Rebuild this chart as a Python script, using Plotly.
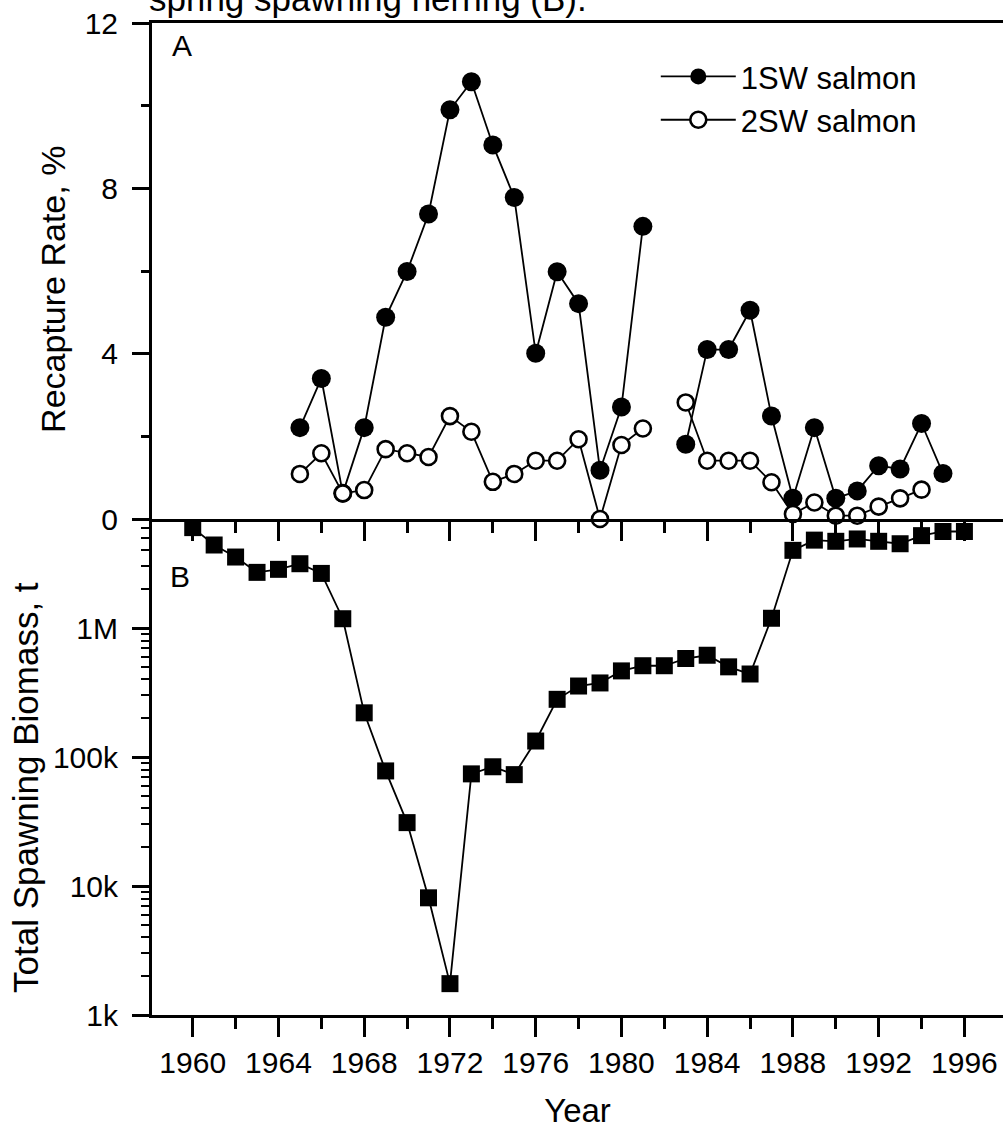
import plotly.graph_objects as go
from plotly.subplots import make_subplots

# ---- data ----
years_a = list(range(1965, 1996))
salmon_1sw = [2.21, 3.40, 0.62, 2.21, 4.88, 5.99, 7.38, 9.90, 10.58, 9.05,
              7.78, 4.01, 5.98, 5.21, 1.18, 2.71, 7.08, None, 1.81, 4.10,
              4.10, 5.05, 2.49, 0.50, 2.21, 0.50, 0.68, 1.29, 1.21, 2.31, 1.10]
salmon_2sw = [1.09, 1.59, 0.62, 0.70, 1.69, 1.59, 1.50, 2.49, 2.11, 0.90,
              1.09, 1.41, 1.41, 1.93, 0.00, 1.79, 2.19, None, 2.82, 1.41,
              1.41, 1.41, 0.89, 0.12, 0.40, 0.08, 0.08, 0.30, 0.50, 0.71, None]

years_b = list(range(1960, 1997))
biomass = [6.0e6, 4.4e6, 3.55e6, 2.7e6, 2.85e6, 3.15e6, 2.65e6, 1.18e6, 2.2e5, 7.8e4,
           3.1e4, 8.1e3, 1.75e3, 7.4e4, 8.4e4, 7.3e4, 1.33e5, 2.8e5, 3.55e5, 3.75e5,
           4.65e5, 5.1e5, 5.1e5, 5.8e5, 6.15e5, 5.0e5, 4.4e5, 1.19e6, 4.0e6, 4.8e6,
           4.7e6, 4.9e6, 4.7e6, 4.5e6, 5.2e6, 5.6e6, 5.6e6]

a_ticks = [0, 4, 8, 12]
a_minor = [2, 6, 10]
b_tickvals = [1e3, 1e4, 1e5, 1e6]
b_ticktext = ["1k", "10k", "100k", "1M"]
x_tickvals = list(range(1960, 1997, 4))
x_ticktext = [str(v) for v in x_tickvals]

FONT = "Liberation Sans, Arial, sans-serif"

fig = make_subplots(rows=2, cols=1, shared_xaxes=False, vertical_spacing=0)

fig.add_trace(go.Scatter(
    x=years_a, y=salmon_1sw, mode="lines+markers", name="1SW salmon",
    line=dict(color="black", width=1.8),
    marker=dict(symbol="circle", size=19, color="black"),
    cliponaxis=False, connectgaps=False), row=1, col=1)
fig.add_trace(go.Scatter(
    x=years_a, y=salmon_2sw, mode="lines+markers", name="2SW salmon",
    line=dict(color="black", width=1.8),
    marker=dict(symbol="circle", size=16, color="white",
                line=dict(color="black", width=2.6)),
    cliponaxis=False, connectgaps=False), row=1, col=1)
fig.add_trace(go.Scatter(
    x=years_b, y=biomass, mode="lines+markers", showlegend=False,
    line=dict(color="black", width=1.8),
    marker=dict(symbol="square", size=17, color="black")), row=2, col=1)

xr = [1958.1, 1997.8]
common_x = dict(range=xr, showgrid=False, zeroline=False, showline=True,
                linecolor="black", linewidth=3, ticks="outside", tickwidth=2.5,
                tickcolor="black", ticklen=19, tickmode="array",
                tickvals=x_tickvals,
                minor=dict(ticks="outside", ticklen=11, tickwidth=2.5,
                           tickcolor="black", dtick=2, tick0=1960))
fig.update_xaxes(**common_x, mirror=True, showticklabels=False, row=1, col=1)
fig.update_xaxes(**common_x, showticklabels=True, ticktext=x_ticktext,
                 tickfont=dict(family=FONT, size=30, color="black"),
                 title=dict(text="Year", font=dict(family=FONT, size=33, color="black"),
                            standoff=24),
                 row=2, col=1)

fig.update_yaxes(range=[0, 12], tickmode="array", tickvals=a_ticks,
                 showgrid=False, zeroline=False, showline=True, linecolor="black",
                 linewidth=3, ticks="outside", ticklen=17, tickwidth=2.5,
                 tickcolor="black", ticklabelstandoff=8,
                 minor=dict(ticks="outside", ticklen=8, tickwidth=2.5,
                            tickcolor="black", tickvals=a_minor),
                 tickfont=dict(family=FONT, size=30, color="black"),
                 row=1, col=1)
fig.update_yaxes(type="log", range=[3, 6.845], tickmode="array",
                 tickvals=b_tickvals, ticktext=b_ticktext,
                 showgrid=False, zeroline=False, showline=True, linecolor="black",
                 linewidth=3, ticks="outside", ticklen=17, tickwidth=2.5,
                 tickcolor="black", ticklabelstandoff=8,
                 minor=dict(ticks="outside", ticklen=8, tickwidth=2,
                            tickcolor="black", dtick="D1"),
                 tickfont=dict(family=FONT, size=30, color="black"),
                 row=2, col=1)

# axis titles (placed as rotated annotations to match the original offsets)
fig.add_annotation(text="Recapture Rate, %", xref="paper", yref="paper",
                   x=-0.1163, y=0.731, xanchor="center", yanchor="middle",
                   textangle=-90, showarrow=False,
                   font=dict(family=FONT, size=34, color="black"))
fig.add_annotation(text="Total Spawning Biomass, t", xref="paper", yref="paper",
                   x=-0.148, y=0.229, xanchor="center", yanchor="middle",
                   textangle=-90, showarrow=False,
                   font=dict(family=FONT, size=35, color="black"))

fig.add_annotation(text="A", xref="x", yref="y", x=1959.5, y=11.45,
                   showarrow=False, font=dict(family=FONT, size=30, color="black"))
fig.add_annotation(text="B", xref="x2", yref="paper", x=1959.4, y=0.442,
                   showarrow=False, font=dict(family=FONT, size=30, color="black"))
fig.add_annotation(text="spring spawning herring (B).", xref="paper", yref="paper",
                   x=-0.006, y=1.0, xanchor="left", yanchor="bottom", yshift=3,
                   showarrow=False, font=dict(family=FONT, size=35, color="black"))

fig.update_layout(
    width=1003, height=1129,
    margin=dict(l=152, r=0, t=23, b=114),
    paper_bgcolor="white", plot_bgcolor="white",
    font=dict(family=FONT, color="black"),
    showlegend=True,
    legend=dict(x=0.592, y=0.973, xanchor="left", yanchor="top",
                bgcolor="rgba(0,0,0,0)", borderwidth=0,
                font=dict(family=FONT, size=31, color="black"),
                itemwidth=75, tracegroupgap=0),
)

fig.write_html("out.html")
